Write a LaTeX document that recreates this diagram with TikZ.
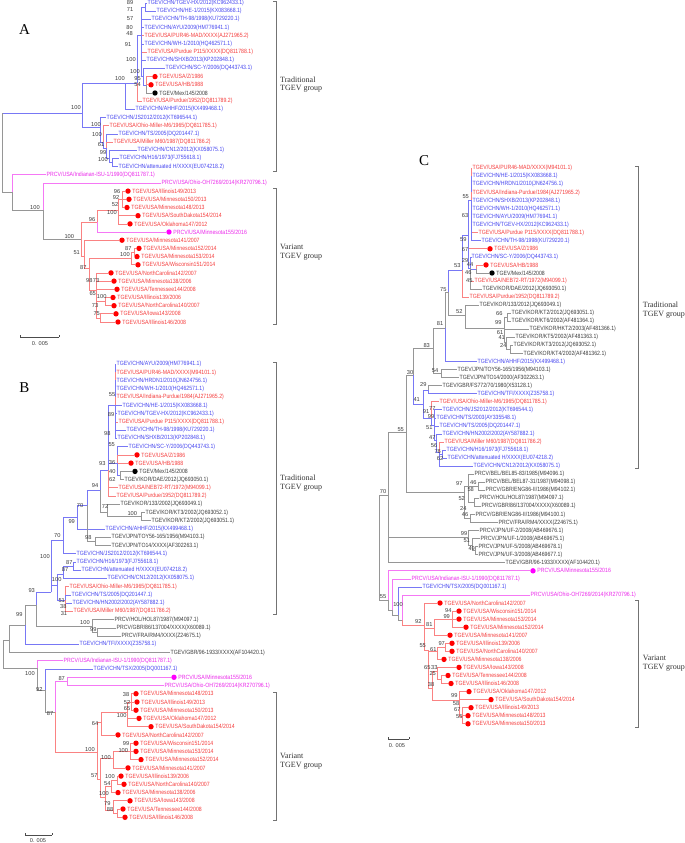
\documentclass[tikz,border=0pt]{standalone}
\usepackage{fontspec}
\setmainfont{Liberation Serif}
\newfontfamily\leaffont[FakeStretch=0.85]{Liberation Sans}
\newfontfamily\bsfont{Liberation Sans}
\usetikzlibrary{positioning}
\definecolor{tb}{RGB}{70,70,240}
\definecolor{tr}{RGB}{245,60,60}
\definecolor{tm}{RGB}{235,40,235}
\definecolor{tk}{RGB}{60,60,60}
\definecolor{lb}{RGB}{120,120,245}
\definecolor{lr}{RGB}{250,130,130}
\definecolor{lm}{RGB}{245,120,245}
\definecolor{lk}{RGB}{150,150,150}
\definecolor{dr}{RGB}{255,0,0}
\definecolor{dm}{RGB}{255,0,255}
\newcounter{bsc}
% leaf, leaf with dot, branches, bootstrap value
\newcommand{\lf}[5]{\node[leaf,text=#4] (#1) at (#2,#3) {#5};}
\newcommand{\dlf}[6]{\node[pt,fill=#4] (#1) at (#2,#3) {};
  \node[leaf,text=#5] (#1t) at ([xshift=3.7pt]#1.center) {#6};}
\newcommand{\kids}[2]{\foreach \ch/\cl in {#2} {\draw[br,draw=\cl] (#1) |- (\ch);}}
\newcommand{\bs}[3]{\stepcounter{bsc}\node[bsn] (bs\thebsc) at (#1,#2) {#3};}
\begin{document}
\begin{tikzpicture}[x=1pt,y=-1pt,
  leaf/.style={anchor=west,inner sep=0.5pt,font=\leaffont\fontsize{6.1}{6}\selectfont},
  pt/.style={circle,inner sep=0pt,minimum size=5.4pt,draw=none},
  br/.style={line width=0.75pt},
  bsn/.style={inner sep=0pt,font=\bsfont\fontsize{5.7}{5.7}\selectfont,text=tk},
  grp/.style={anchor=west,align=left,inner sep=0pt,font=\fontsize{8}{8.6}\selectfont,text=black!80},
  brk/.style={draw=black!55,line width=0.7pt},
  lett/.style={font=\fontsize{15}{15}\selectfont},
  scl/.style={line width=0.8pt,draw=black!70},
  sclab/.style={inner sep=0pt,font=\bsfont\fontsize{5.6}{5.6}\selectfont,text=tk}
  ]
\fill[white] (0,0) rectangle (685,843);
\useasboundingbox (0,0) rectangle (685,843);

% ---------------- A
\node[lett] (lA) at (24.5,30) {A};
\lf{a1}{147}{3.0}{tb}{TGEV/CHN/TGEV-HX/2012(KC962433.1)}
\lf{a2}{156}{11.2}{tb}{TGEV/CHN/HE-1/2015(KX083668.1)}
\lf{a3}{151}{19.4}{tb}{TGEV/CHN/TH-98/1998(KU729220.1)}
\lf{a4}{144}{27.5}{tb}{TGEV/CHN/AYU/2009(HM776941.1)}
\lf{a5}{144}{35.7}{tr}{TGEV/USA/PUR46-MAD/XXXX(AJ271965.2)}
\lf{a6}{144}{43.9}{tb}{TGEV/CHN/WH-1/2010(HQ462571.1)}
\lf{a7}{147}{52.1}{tr}{TGEV/USA/Purdue P115/XXXX(DQ811788.1)}
\lf{a8}{146}{60.3}{tb}{TGEV/CHN/SHXB/2013(KP202848.1)}
\lf{a9}{165}{68.4}{tb}{TGEV/CHN/SC-Y/2006(DQ443743.1)}
\dlf{a10}{155}{76.6}{dr}{tr}{TGEV/USA/Z/1986}
\dlf{a11}{151}{84.8}{dr}{tr}{TGEV/USA/HB/1988}
\dlf{a12}{155}{93.0}{black}{tk}{TGEV/Mex/145/2008}
\lf{a13}{142}{101.2}{tr}{TGEV/USA/Purdue/1952(DQ811789.2)}
\lf{a14}{135}{109.3}{tb}{TGEV/CHN/AHHF/2015(KX499468.1)}
\lf{a15}{106}{117.5}{tb}{TGEV/CHN/JS2012/2012(KT696544.1)}
\lf{a16}{109}{125.7}{tr}{TGEV/USA/Ohio-Miller-M6/1965(DQ811785.1)}
\lf{a17}{118}{133.9}{tb}{TGEV/CHN/TS/2005(DQ201447.1)}
\lf{a18}{113}{142.1}{tr}{TGEV/USA/Miller M60/1987(DQ811786.2)}
\lf{a19}{137}{150.2}{tb}{TGEV/CHN/CN12/2012(KX058075.1)}
\lf{a20}{119}{158.4}{tb}{TGEV/CHN/H16/1973(FJ755618.1)}
\lf{a21}{118}{166.6}{tb}{TGEV/CHN/attenuated H/XXXX(EU074218.2)}
\lf{a22}{46}{174.8}{tm}{PRCV/USA/Indianan-ISU-1/1990(DQ811787.1)}
\lf{a23}{161}{183.0}{tm}{PRCV/USA/Ohio-OH7269/2014(KR270796.1)}
\dlf{a24}{128}{191.1}{dr}{tr}{TGEV/USA/Illinois149/2013}
\dlf{a25}{129}{199.3}{dr}{tr}{TGEV/USA/Minnesota150/2013}
\dlf{a26}{127}{207.5}{dr}{tr}{TGEV/USA/Minnesota148/2013}
\dlf{a27}{138}{215.7}{dr}{tr}{TGEV/USA/SouthDakota154/2014}
\dlf{a28}{130}{223.9}{dr}{tr}{TGEV/USA/Oklahoma147/2012}
\dlf{a29}{169}{232.0}{dm}{tm}{PRCV/USA/Minnesota155/2016}
\dlf{a30}{122}{240.2}{dr}{tr}{TGEV/USA/Minnesota141/2007}
\dlf{a31}{139}{248.4}{dr}{tr}{TGEV/USA/Minnesota152/2014}
\dlf{a32}{137}{256.6}{dr}{tr}{TGEV/USA/Minnesota153/2014}
\dlf{a33}{138}{264.8}{dr}{tr}{TGEV/USA/Wisconsin151/2014}
\dlf{a34}{111}{272.9}{dr}{tr}{TGEV/USA/NorthCarolina142/2007}
\dlf{a35}{114}{281.1}{dr}{tr}{TGEV/USA/Minnesota138/2006}
\dlf{a36}{117}{289.3}{dr}{tr}{TGEV/USA/Tennessee144/2008}
\dlf{a37}{113}{297.5}{dr}{tr}{TGEV/USA/Illinois139/2006}
\dlf{a38}{114}{305.7}{dr}{tr}{TGEV/USA/NorthCarolina140/2007}
\dlf{a39}{116}{313.8}{dr}{tr}{TGEV/USA/Iowa143/2008}
\dlf{a40}{118}{322.0}{dr}{tr}{TGEV/USA/Illinois146/2008}

\coordinate (rA) at (2,150);
\coordinate (nA1) at (82,113);
\coordinate (nA2) at (125,83);
\coordinate (nA3) at (137,83);
\coordinate (nA4) at (141,35);
\coordinate (nA4a) at (145,7.1);
\coordinate (nA7) at (143,76);
\coordinate (nA8) at (146,85);
\coordinate (nA6) at (100,127);
\coordinate (nA9) at (103,142);
\coordinate (nA10) at (106,148);
\coordinate (nA11) at (109,158);
\coordinate (nA12) at (112,162.5);
\coordinate (nA13) at (12,192);
\coordinate (nA14) at (43,210);
\coordinate (nA15) at (81,239);
\coordinate (nA16) at (97,222);
\coordinate (nA17) at (118,210);
\coordinate (nA18) at (122,199.3);
\coordinate (nA15b) at (84,256);
\coordinate (nA19) at (89,268);
\coordinate (nA20) at (131,258);
\coordinate (nA20a) at (134,252.5);
\coordinate (nA21) at (96,290);
\coordinate (nA22) at (105,301.6);
\coordinate (nA23) at (100,318);

\kids{rA}{nA1/lb,nA13/lk}
\kids{nA1}{nA2/lb,nA6/lb}
\kids{nA2}{nA3/lb,a14/lb}
\kids{nA3}{nA4/lb,a13/lr}
\kids{nA4}{nA4a/lb,a3/lb,a4/lb,a5/lr,a6/lb,a7/lr,a8/lb,nA7/lb}
\kids{nA4a}{a1/lb,a2/lb}
\kids{nA7}{a9/lb,nA8/lb}
\kids{nA8}{a10/lr,a11/lr,a12/lk}
\kids{nA6}{a15/lb,nA9/lb}
\kids{nA9}{a16/lr,nA10/lb}
\kids{nA10}{a17/lb,a18/lr,nA11/lb}
\kids{nA11}{a19/lb,nA12/lb}
\kids{nA12}{a20/lb,a21/lb}
\kids{nA13}{a22/lm,nA14/lk}
\kids{nA14}{a23/lm,nA15/lk}
\kids{nA15}{nA16/lr,nA15b/lr}
\kids{nA16}{nA17/lr,a29/lm}
\kids{nA17}{nA18/lr,a27/lr,a28/lr}
\kids{nA18}{a24/lr,a25/lr,a26/lr}
\kids{nA15b}{a30/lr,nA19/lr}
\kids{nA19}{nA20/lr,nA21/lr}
\kids{nA20}{nA20a/lr,a33/lr}
\kids{nA20a}{a31/lr,a32/lr}
\kids{nA21}{a34/lr,a35/lr,a36/lr,nA22/lr,nA23/lr}
\kids{nA22}{a37/lr,a38/lr}
\kids{nA23}{a39/lr,a40/lr}
\draw[br,draw=lk] (rA) -- (2,113);

\bs{130}{2.7}{89} \bs{130}{9.3}{71} \bs{130}{18.3}{57} \bs{129.5}{27.3}{80}
\bs{129.5}{33.3}{48} \bs{128}{45}{91} \bs{131}{59.3}{100} \bs{135}{71.7}{100}
\bs{120}{78.3}{100} \bs{137.5}{78.3}{95} \bs{137.5}{85}{54} \bs{76}{107.3}{100}
\bs{96}{125}{100} \bs{97}{135}{100} \bs{101}{145}{61} \bs{103}{152.7}{99} \bs{103}{159.3}{100}
\bs{35}{208}{100} \bs{117}{191.3}{96} \bs{116}{198}{92} \bs{115}{205}{52} \bs{112}{213}{100}
\bs{92}{220}{96} \bs{69.3}{236.7}{100} \bs{76.7}{252.3}{51} \bs{83.3}{267.7}{87}
\bs{128.3}{248.3}{87} \bs{125}{255}{100} \bs{89.3}{281}{98} \bs{96}{281}{73}
\bs{92.7}{294}{65} \bs{101.7}{296.7}{100} \bs{95}{305.3}{73} \bs{96.7}{314}{75}

\draw[brk] (273,1) -- (276,1) -- (276,171) -- (273,171);
\draw[brk] (273,188) -- (276,188) -- (276,324) -- (273,324);
\node[grp] (gA1) at (280,84.5) {Traditional\\TGEV group};
\node[grp] (gA2) at (280,252) {Variant\\TGEV group};
\draw[scl] (20,337) -- (59,337);
\draw[scl] (20,335) -- (20,337.4) (59,335) -- (59,337.4);
\node[sclab] (sA) at (40,344) {0. 005};

% ---------------- B
\node[lett] (lB) at (24.5,388) {B};
\lf{b0}{116}{364.3}{tb}{TGEV/CHN/AYU/2009(HM776941.1)}
\lf{b1}{116}{372.5}{tr}{TGEV/USA/PUR46-MAD/XXXX(M94101.1)}
\lf{b2}{116}{380.8}{tb}{TGEV/CHN/HRDN1/2010(JN624756.1)}
\lf{b3}{116}{389.0}{tb}{TGEV/CHN/WH-1/2010(HQ462571.1)}
\lf{b4}{116}{397.2}{tr}{TGEV/USA/Indiana-Purdue/1984(AJ271965.2)}
\lf{b5}{122}{405.5}{tb}{TGEV/CHN/HE-1/2015(KX083668.1)}
\lf{b6}{117}{413.7}{tb}{TGEV/CHN/TGEV-HX/2012(KC962433.1)}
\lf{b7}{118}{421.9}{tr}{TGEV/USA/Purdue P115/XXXX(DQ811788.1)}
\lf{b8}{126}{430.2}{tb}{TGEV/CHN/TH-98/1998(KU729220.1)}
\lf{b9}{117}{438.4}{tb}{TGEV/CHN/SHXB/2013(KP202848.1)}
\lf{b10}{128}{446.7}{tb}{TGEV/CHN/SC-Y/2006(DQ443743.1)}
\dlf{b11}{137}{454.9}{dr}{tr}{TGEV/USA/Z/1986}
\dlf{b12}{131}{463.1}{dr}{tr}{TGEV/USA/HB/1988}
\dlf{b13}{135}{471.4}{black}{tk}{TGEV/Mex/145/2008}
\lf{b14}{124}{479.6}{tk}{TGEV/KOR/DAE/2012(JQ693050.1)}
\lf{b15}{118}{487.8}{tr}{TGEV/USA/NEB72-RT/1972(M94099.1)}
\lf{b16}{116}{496.1}{tr}{TGEV/USA/Purdue/1952(DQ811789.2)}
\lf{b17}{120}{504.3}{tk}{TGEV/KOR/133/2002(JQ693049.1)}
\lf{b18}{145}{512.5}{tk}{TGEV/KOR/KT3/2002(JQ693052.1)}
\lf{b19}{151}{520.8}{tk}{TGEV/KOR/KT2/2002(JQ693051.1)}
\lf{b20}{105}{529.0}{tb}{TGEV/CHN/AHHF/2015(KX499468.1)}
\lf{b21}{111}{537.3}{tk}{TGEV/JPN/TOY56-165/1956(M94103.1)}
\lf{b22}{111}{545.5}{tk}{TGEV/JPN/TO14/XXXX(AF302263.1)}
\lf{b23}{76}{553.7}{tb}{TGEV/CHN/JS2012/2012(KT696544.1)}
\lf{b24}{76}{562.0}{tb}{TGEV/CHN/H16/1973(FJ755618.1)}
\lf{b25}{81}{570.2}{tb}{TGEV/CHN/attenuated H/XXXX(EU074218.2)}
\lf{b26}{107}{578.4}{tb}{TGEV/CHN/CN12/2012(KX058075.1)}
\lf{b27}{69}{586.7}{tr}{TGEV/USA/Ohio-Miller-M6/1965(DQ811785.1)}
\lf{b28}{71}{594.9}{tb}{TGEV/CHN/TS/2005(DQ201447.1)}
\lf{b29}{72}{603.1}{tb}{TGEV/CHN/HN2002/2002(AY587882.1)}
\lf{b30}{73}{611.4}{tr}{TGEV/USA/Miller M60/1987(DQ811786.2)}
\lf{b31}{114}{619.6}{tk}{PRCV/HOL/HOL87/1987(M94097.1)}
\lf{b32}{116}{627.9}{tk}{PRCV/GBR/86/137004/XXXX(X60089.1)}
\lf{b33}{121}{636.1}{tk}{PRCV/FRA/RM4/XXXX(Z24675.1)}
\lf{b34}{79}{644.3}{tb}{TGEV/CHN/TFI/XXXX(Z35758.1)}
\lf{b35}{170}{652.6}{tk}{TGEV/GBR/96-1933/XXXX(AF104420.1)}
\lf{b36}{63}{660.8}{tm}{PRCV/USA/Indianan-ISU-1/1990(DQ811787.1)}
\lf{b37}{93}{669.0}{tb}{TGEV/CHN/TSX/2005(DQ001167.1)}
\dlf{b38}{174}{677.3}{dm}{tm}{PRCV/USA/Minnesota155/2016}
\lf{b39}{164}{685.5}{tm}{PRCV/USA/Ohio-OH7269/2014(KR270796.1)}
\dlf{b40}{136}{693.7}{dr}{tr}{TGEV/USA/Minnesota148/2013}
\dlf{b41}{137}{702.0}{dr}{tr}{TGEV/USA/Illinois149/2013}
\dlf{b42}{136}{710.2}{dr}{tr}{TGEV/USA/Minnesota150/2013}
\dlf{b43}{139}{718.4}{dr}{tr}{TGEV/USA/Oklahoma147/2012}
\dlf{b44}{151}{726.7}{dr}{tr}{TGEV/USA/SouthDakota154/2014}
\dlf{b45}{118}{734.9}{dr}{tr}{TGEV/USA/NorthCarolina142/2007}
\dlf{b46}{136}{743.2}{dr}{tr}{TGEV/USA/Wisconsin151/2014}
\dlf{b47}{136}{751.4}{dr}{tr}{TGEV/USA/Minnesota153/2014}
\dlf{b48}{141}{759.6}{dr}{tr}{TGEV/USA/Minnesota152/2014}
\dlf{b49}{128}{767.9}{dr}{tr}{TGEV/USA/Minnesota141/2007}
\dlf{b50}{121}{776.1}{dr}{tr}{TGEV/USA/Illinois139/2006}
\dlf{b51}{124}{784.3}{dr}{tr}{TGEV/USA/NorthCarolina140/2007}
\dlf{b52}{118}{792.6}{dr}{tr}{TGEV/USA/Minnesota138/2006}
\dlf{b53}{130}{800.8}{dr}{tr}{TGEV/USA/Iowa143/2008}
\dlf{b54}{123}{809.0}{dr}{tr}{TGEV/USA/Tennessee144/2008}
\dlf{b55}{125}{817.3}{dr}{tr}{TGEV/USA/Illinois146/2008}

\coordinate (rB) at (3,655);
\coordinate (nB15) at (9,640);
\coordinate (nB14) at (25,625);
\coordinate (nB13) at (36,605);
\coordinate (nP) at (92,626);
\coordinate (nP2) at (97,632);
\coordinate (nB10) at (51,592);
\coordinate (nB9) at (63,540);
\coordinate (nB8) at (77,517);
\coordinate (nB7) at (87,505);
\coordinate (nJ) at (95,541.4);
\coordinate (nB1) at (100,490);
\coordinate (nK1) at (107,512);
\coordinate (nK2) at (141,516.6);
\coordinate (nB2) at (108,470);
\coordinate (nB3) at (115,405);
\coordinate (nB5) at (117,463);
\coordinate (nB6) at (120,475.5);
\coordinate (nB12) at (57,585);
\coordinate (nH) at (63,574);
\coordinate (nH2) at (73,566);
\coordinate (nB11) at (65,600);
\coordinate (nB16) at (37,668);
\coordinate (nB17) at (45,690);
\coordinate (nB18) at (55,712);
\coordinate (nMag) at (67,681.4);
\coordinate (nV) at (97,752);
\coordinate (nV1) at (101,722);
\coordinate (nV1a) at (127,712);
\coordinate (nV1b) at (131,702);
\coordinate (nVb) at (100,779);
\coordinate (nV3) at (113,758);
\coordinate (nV3a) at (130,751.4);
\coordinate (nV4) at (105,797);
\coordinate (nV4a) at (111,786);
\coordinate (nV4c) at (117,780.2);
\coordinate (nV4b) at (113,810);
\coordinate (nV4d) at (117,813.2);

\kids{rB}{nB15/lk,nB16/lk}
\kids{nB15}{nB14/lk,b35/lk}
\kids{nB14}{nB13/lk,b34/lb}
\kids{nB13}{nB10/lb,nP/lk}
\kids{nP}{b31/lk,nP2/lk}
\kids{nP2}{b32/lk,b33/lk}
\kids{nB10}{nB9/lb,nB12/lb}
\kids{nB9}{nB8/lb,b23/lb}
\kids{nB8}{nB7/lb,b20/lb}
\kids{nB7}{nB1/lb,nJ/lk}
\kids{nJ}{b21/lk,b22/lk}
\kids{nB1}{nB2/lb,nK1/lk}
\kids{nK1}{b17/lk,nK2/lk}
\kids{nK2}{b18/lk,b19/lk}
\kids{nB2}{nB3/lb,nB5/lb,b15/lr,b16/lr}
\kids{nB3}{b0/lb,b1/lr,b2/lb,b3/lb,b4/lr,b5/lb,b6/lb,b7/lr,b8/lb,b9/lb}
\kids{nB5}{b10/lb,b11/lr,b12/lr,nB6/lb}
\kids{nB6}{b13/lk,b14/lk}
\kids{nB12}{nH/lb,nB11/lb}
\kids{nH}{nH2/lb,b26/lb}
\kids{nH2}{b24/lb,b25/lb}
\kids{nB11}{b27/lr,b28/lb,b29/lb,b30/lr}
\kids{nB16}{b36/lm,nB17/lk}
\kids{nB17}{b37/lb,nB18/lk}
\kids{nB18}{nMag/lm,nV/lr}
\kids{nMag}{b38/lm,b39/lm}
\kids{nV}{nV1/lr,nVb/lr}
\kids{nV1}{nV1a/lr,b45/lr}
\kids{nV1a}{nV1b/lr,b43/lr,b44/lr}
\kids{nV1b}{b40/lr,b41/lr,b42/lr}
\kids{nVb}{nV3/lr,nV4/lr}
\kids{nV3}{nV3a/lr,b49/lr}
\kids{nV3a}{b46/lr,b47/lr,b48/lr}
\kids{nV4}{nV4a/lr,nV4b/lr}
\kids{nV4a}{nV4c/lr,b52/lr}
\kids{nV4c}{b50/lr,b51/lr}
\kids{nV4b}{b53/lr,nV4d/lr}
\kids{nV4d}{b54/lr,b55/lr}

\bs{112}{394.3}{55} \bs{111}{414.3}{89} \bs{107.3}{434}{98} \bs{111.7}{445}{55}
\bs{112}{462.3}{36} \bs{102.3}{463.3}{93} \bs{112.3}{471.7}{40} \bs{112.3}{480}{62}
\bs{95}{486}{94} \bs{80}{505.7}{70} \bs{105}{506.7}{72} \bs{132.3}{514}{100}
\bs{71.7}{521.7}{99} \bs{57.3}{536}{70} \bs{88.3}{537.7}{98} \bs{45}{556.7}{100}
\bs{69.3}{562.3}{87} \bs{65}{569.3}{87} \bs{56.7}{580}{100} \bs{61.7}{600.7}{51}
\bs{63.3}{606.7}{38} \bs{64}{613.3}{31} \bs{31.7}{591}{93} \bs{19.3}{614.3}{99}
\bs{85}{622.7}{100} \bs{93.3}{629.3}{99} \bs{30}{674}{100} \bs{39.3}{689.3}{92}
\bs{61.7}{678.3}{87} \bs{126}{695}{38} \bs{127}{702.7}{52} \bs{127}{708.3}{65}
\bs{121.7}{716}{100} \bs{95}{724}{64} \bs{90}{750}{100} \bs{126}{743.3}{99}
\bs{123.3}{750.7}{100} \bs{106}{757.3}{100} \bs{94.3}{776}{57} \bs{110}{776.7}{100}
\bs{107.3}{783.3}{54} \bs{104}{794}{100} \bs{107.3}{804}{79} \bs{110}{810}{88}
\bs{50}{714}{87}

\draw[brk] (273,362) -- (276,362) -- (276,614) -- (273,614);
\draw[brk] (273,692) -- (276,692) -- (276,820) -- (273,820);
\node[grp] (gB1) at (280,483) {Traditional\\TGEV group};
\node[grp] (gB2) at (280,761) {Variant\\TGEV group};
\draw[scl] (25,835) -- (52,835);
\draw[scl] (25,833) -- (25,835.4) (52,833) -- (52,835.4);
\node[sclab] (sB) at (38,841) {0. 005};

% ---------------- C
\node[lett] (lC) at (424,161) {C};
\lf{c0}{472}{168.3}{tr}{TGEV/USA/PUR46-MAD/XXXX(M94101.1)}
\lf{c1}{472}{176.4}{tb}{TGEV/CHN/HE-1/2015(KX083668.1)}
\lf{c2}{472}{184.4}{tb}{TGEV/CHN/HRDN1/2010(JN624756.1)}
\lf{c3}{472}{192.5}{tr}{TGEV/USA/Indiana-Purdue/1984(AJ271965.2)}
\lf{c4}{472}{200.5}{tb}{TGEV/CHN/SHXB/2013(KP202848.1)}
\lf{c5}{472}{208.6}{tb}{TGEV/CHN/WH-1/2010(HQ462571.1)}
\lf{c6}{472}{216.6}{tb}{TGEV/CHN/AYU/2009(HM776941.1)}
\lf{c7}{472}{224.7}{tb}{TGEV/CHN/TGEV-HX/2012(KC962433.1)}
\lf{c8}{478}{232.7}{tr}{TGEV/USA/Purdue P115/XXXX(DQ811788.1)}
\lf{c9}{481}{240.8}{tb}{TGEV/CHN/TH-98/1998(KU729220.1)}
\dlf{c10}{490}{248.8}{dr}{tr}{TGEV/USA/Z/1986}
\lf{c11}{471}{256.9}{tb}{TGEV/CHN/SC-Y/2006(DQ443743.1)}
\dlf{c12}{486}{264.9}{dr}{tr}{TGEV/USA/HB/1988}
\dlf{c13}{492}{273.0}{black}{tk}{TGEV/Mex/145/2008}
\lf{c14}{474}{281.0}{tr}{TGEV/USA/NEB72-RT/1972(M94099.1)}
\lf{c15}{482}{289.1}{tk}{TGEV/KOR/DAE/2012(JQ693050.1)}
\lf{c16}{469}{297.1}{tr}{TGEV/USA/Purdue/1952(DQ811789.2)}
\lf{c17}{479}{305.2}{tk}{TGEV/KOR/133/2012(JQ693049.1)}
\lf{c18}{511}{313.2}{tk}{TGEV/KOR/KT2/2012(JQ693051.1)}
\lf{c19}{511}{321.3}{tk}{TGEV/KOR/KT6/2002(AF481364.1)}
\lf{c20}{529}{329.3}{tk}{TGEV/KOR/HKT2/2003(AF481366.1)}
\lf{c21}{515}{337.4}{tk}{TGEV/KOR/KT5/2002(AF481363.1)}
\lf{c22}{513}{345.4}{tk}{TGEV/KOR/KT3/2012(JQ693052.1)}
\lf{c23}{523}{353.5}{tk}{TGEV/KOR/KT4/2002(AF481362.1)}
\lf{c24}{477}{361.5}{tb}{TGEV/CHN/AHHF/2015(KX499468.1)}
\lf{c25}{457}{369.6}{tk}{TGEV/JPN/TOY56-165/1956(M94103.1)}
\lf{c26}{459}{377.6}{tk}{TGEV/JPN/TO14/2000(AF302263.1)}
\lf{c27}{442}{385.7}{tk}{TGEV/GBR/FS772/70/1980(X53128.1)}
\lf{c28}{477}{393.7}{tb}{TGEV/CHN/TFI/XXXX(Z35758.1)}
\lf{c29}{439}{401.8}{tr}{TGEV/USA/Ohio-Miller-M6/1965(DQ811785.1)}
\lf{c30}{442}{409.8}{tb}{TGEV/CHN/JS2012/2012(KT696544.1)}
\lf{c31}{436}{417.9}{tb}{TGEV/CHN/TS/2003(AY335548.1)}
\lf{c32}{439}{425.9}{tb}{TGEV/CHN/TS/2005(DQ201447.1)}
\lf{c33}{442}{434.0}{tb}{TGEV/CHN/HN2002/2002(AY587882.1)}
\lf{c34}{444}{442.0}{tr}{TGEV/USA/Miller M60/1987(DQ811786.2)}
\lf{c35}{446}{450.1}{tb}{TGEV/CHN/H16/1973(FJ755618.1)}
\lf{c36}{447}{458.1}{tb}{TGEV/CHN/attenuated H/XXXX(EU074218.2)}
\lf{c37}{473}{466.2}{tb}{TGEV/CHN/CN12/2012(KX058075.1)}
\lf{c38}{474}{474.2}{tk}{PRCV/BEL/BEL85-83/1985(M94096.1)}
\lf{c39}{485}{482.3}{tk}{PRCV/BEL/BEL87-31/1987(M94098.1)}
\lf{c40}{485}{490.3}{tk}{PRCV/GBR/ENG86-II/1986(M94102.1)}
\lf{c41}{479}{498.4}{tk}{PRCV/HOL/HOL87/1987(M94097.1)}
\lf{c42}{481}{506.4}{tk}{PRCV/GBR/86/137004/XXXX(X60089.1)}
\lf{c43}{475}{514.5}{tk}{PRCV/GBR/ENG86-II/1986(M94100.1)}
\lf{c44}{498}{522.5}{tk}{PRCV/FRA/RM4/XXXX(Z24675.1)}
\lf{c45}{479}{530.6}{tk}{PRCV/JPN/UF-2/2008(AB469676.1)}
\lf{c46}{480}{538.6}{tk}{PRCV/JPN/UF-1/2008(AB469675.1)}
\lf{c47}{478}{546.7}{tk}{PRCV/JPN/UF-5/2008(AB469678.1)}
\lf{c48}{478}{554.7}{tk}{PRCV/JPN/UF-3/2008(AB469677.1)}
\lf{c49}{505}{562.8}{tk}{TGEV/GBR/96-1933/XXXX(AF104420.1)}
\dlf{c50}{533}{570.8}{dm}{tm}{PRCV/USA/Minnesota155/2016}
\lf{c51}{411}{578.9}{tm}{PRCV/USA/Indianan-ISU-1/1990(DQ811787.1)}
\lf{c52}{422}{586.9}{tb}{TGEV/CHN/TSX/2005(DQ001167.1)}
\lf{c53}{530}{595.0}{tm}{PRCV/USA/Ohio-OH7269/2014(KR270796.1)}
\dlf{c54}{440}{603.0}{dr}{tr}{TGEV/USA/NorthCarolina142/2007}
\dlf{c55}{459}{611.1}{dr}{tr}{TGEV/USA/Wisconsin151/2014}
\dlf{c56}{459}{619.1}{dr}{tr}{TGEV/USA/Minnesota153/2014}
\dlf{c57}{466}{627.2}{dr}{tr}{TGEV/USA/Minnesota152/2014}
\dlf{c58}{450}{635.2}{dr}{tr}{TGEV/USA/Minnesota141/2007}
\dlf{c59}{452}{643.3}{dr}{tr}{TGEV/USA/Illinois139/2006}
\dlf{c60}{452}{651.3}{dr}{tr}{TGEV/USA/NorthCarolina140/2007}
\dlf{c61}{444}{659.4}{dr}{tr}{TGEV/USA/Minnesota138/2006}
\dlf{c62}{459}{667.4}{dr}{tr}{TGEV/USA/Iowa143/2008}
\dlf{c63}{448}{675.5}{dr}{tr}{TGEV/USA/Tennessee144/2008}
\dlf{c64}{451}{683.5}{dr}{tr}{TGEV/USA/Illinois146/2008}
\dlf{c65}{469}{691.6}{dr}{tr}{TGEV/USA/Oklahoma147/2012}
\dlf{c66}{491}{699.6}{dr}{tr}{TGEV/USA/SouthDakota154/2014}
\dlf{c67}{471}{707.7}{dr}{tr}{TGEV/USA/Illinois149/2013}
\dlf{c68}{468}{715.7}{dr}{tr}{TGEV/USA/Minnesota148/2013}
\dlf{c69}{468}{723.8}{dr}{tr}{TGEV/USA/Minnesota150/2013}

\coordinate (rC) at (379,545);
\coordinate (nC70) at (388,495);
\coordinate (nC55) at (406,432);
\coordinate (nC30) at (413,375);
\coordinate (nC83) at (433,348);
\coordinate (nCA) at (445,328);
\coordinate (nCK1) at (448,292);
\coordinate (nC0) at (462,270);
\coordinate (nC2) at (468,235);
\coordinate (nC1) at (471,200);
\coordinate (nC3) at (470.5,268);
\coordinate (nC4) at (476,269);
\coordinate (nCK2) at (465,315);
\coordinate (nCK3) at (504,328);
\coordinate (nCK4) at (507,317.2);
\coordinate (nCK5) at (506,342);
\coordinate (nCK6) at (510,349.5);
\coordinate (nCJ) at (441,373.6);
\coordinate (nC41) at (423,404);
\coordinate (nC29) at (428,390);
\coordinate (nCb1) at (431,418);
\coordinate (nCb2) at (434,425);
\coordinate (nCb3) at (436.5,440);
\coordinate (nCb4) at (439,452);
\coordinate (nCb5) at (442.5,454);
\coordinate (nCPR) at (464,492);
\coordinate (nCPR1) at (468,486);
\coordinate (nCPR1a) at (478,486.3);
\coordinate (nCPR1b) at (474,502.4);
\coordinate (nCPR2) at (470,518.5);
\coordinate (nCUF) at (468,537);
\coordinate (nCUF1) at (472,545);
\coordinate (nCUF2) at (475,550.7);
\coordinate (nCL) at (388,600);
\coordinate (nCL2) at (392,610);
\coordinate (nCL3) at (398,615);
\coordinate (nCm) at (402,620);
\coordinate (nCv1) at (424,625);
\coordinate (nCv2) at (434,628);
\coordinate (nCv2a) at (452,619);
\coordinate (nCv3) at (428,650);
\coordinate (nCv4) at (437,651);
\coordinate (nCv4a) at (445,647);
\coordinate (nCv5) at (432,688);
\coordinate (nCv6) at (437,671);
\coordinate (nCv6a) at (441,679.5);
\coordinate (nCv7) at (459,700);
\coordinate (nCv8) at (462,716);

\kids{rC}{nC70/lk,nCL/lk}
\kids{nC70}{nC55/lk,nCUF/lk,c49/lk}
\kids{nC55}{nC30/lk,nCPR/lk}
\kids{nC30}{nC83/lk,nC41/lb}
\kids{nC83}{nCA/lk,nCJ/lk}
\kids{nCA}{nCK1/lk,c24/lb}
\kids{nCK1}{nC0/lb,nCK2/lk}
\kids{nC0}{nC2/lb,c16/lr}
\kids{nC2}{nC1/lb,c10/lr,nC3/lb}
\kids{nC1}{c0/lr,c1/lb,c2/lb,c3/lr,c4/lb,c5/lb,c6/lb,c7/lb,c8/lr,c9/lb}
\kids{nC3}{c11/lb,nC4/lb,c14/lr,c15/lk}
\kids{nC4}{c12/lr,c13/lk}
\kids{nCK2}{c17/lk,nCK3/lk}
\kids{nCK3}{nCK4/lk,c20/lk,nCK5/lk}
\kids{nCK4}{c18/lk,c19/lk}
\kids{nCK5}{c21/lk,nCK6/lk}
\kids{nCK6}{c22/lk,c23/lk}
\kids{nCJ}{c25/lk,c26/lk}
\kids{nC41}{nC29/lb,nCb1/lb}
\kids{nC29}{c27/lk,c28/lb}
\kids{nCb1}{c29/lr,nCb2/lb}
\kids{nCb2}{c30/lb,c31/lb,c32/lb,nCb3/lb}
\kids{nCb3}{c33/lb,nCb4/lb}
\kids{nCb4}{c34/lr,nCb5/lb,c37/lb}
\kids{nCb5}{c35/lb,c36/lb}
\kids{nCPR}{nCPR1/lk,nCPR2/lk}
\kids{nCPR1}{c38/lk,nCPR1a/lk,nCPR1b/lk}
\kids{nCPR1a}{c39/lk,c40/lk}
\kids{nCPR1b}{c41/lk,c42/lk}
\kids{nCPR2}{c43/lk,c44/lk}
\kids{nCUF}{c45/lk,nCUF1/lk}
\kids{nCUF1}{c46/lk,nCUF2/lk}
\kids{nCUF2}{c47/lk,c48/lk}
\kids{nCL}{c50/lm,nCL2/lk}
\kids{nCL2}{c51/lm,nCL3/lk}
\kids{nCL3}{c52/lb,nCm/lk}
\kids{nCm}{c53/lm,nCv1/lr}
\kids{nCv1}{c54/lr,nCv2/lr,nCv3/lr}
\kids{nCv2}{nCv2a/lr,c58/lr}
\kids{nCv2a}{c55/lr,c56/lr,c57/lr}
\kids{nCv3}{nCv4/lr,nCv5/lr}
\kids{nCv4}{nCv4a/lr,c61/lr}
\kids{nCv4a}{c59/lr,c60/lr}
\kids{nCv5}{nCv6/lr,nCv7/lr}
\kids{nCv6}{c62/lr,nCv6a/lr}
\kids{nCv6a}{c63/lr,c64/lr}
\kids{nCv7}{c65/lr,c66/lr,nCv8/lr}
\kids{nCv8}{c67/lr,c68/lr,c69/lr}

\bs{465.7}{196.7}{55} \bs{465}{216}{63} \bs{463.3}{239.3}{59} \bs{465}{249.3}{67}
\bs{465}{260.7}{29} \bs{470}{265}{44} \bs{468.3}{272.7}{46} \bs{469.3}{280.7}{45}
\bs{457.3}{266}{53} \bs{443.3}{289.3}{75} \bs{459.3}{311.7}{52} \bs{440}{324}{81}
\bs{426.7}{345.7}{83} \bs{499.3}{314}{66} \bs{498.3}{322.7}{99} \bs{500}{332.7}{61}
\bs{501.7}{337.3}{41} \bs{503.3}{345.7}{24} \bs{435}{370.7}{54} \bs{410}{372.7}{30}
\bs{423.3}{384.3}{29} \bs{416.7}{399.3}{41} \bs{426}{412}{91} \bs{432.3}{408.7}{77}
\bs{431}{416.7}{99} \bs{429.3}{427.3}{51} \bs{432.3}{437.7}{47} \bs{434}{446}{56}
\bs{437.7}{451.7}{76} \bs{440}{458.3}{62} \bs{400.7}{429.3}{55} \bs{383}{492}{70}
\bs{459.3}{484}{97} \bs{473.3}{482.7}{46} \bs{470.7}{489.3}{58} \bs{461.7}{498.3}{52}
\bs{463.3}{508.3}{24} \bs{465}{515}{46} \bs{464}{533.3}{99} \bs{466.7}{541}{51}
\bs{471.7}{548.3}{49} \bs{383}{597}{55} \bs{398}{605}{100}
\bs{418.3}{621.7}{92} \bs{448.3}{610.7}{94} \bs{446.7}{616.7}{99}
\bs{429.3}{625}{81} \bs{422.7}{645.7}{55} \bs{433.3}{650}{61} \bs{441.7}{644}{97}
\bs{427.3}{667.3}{65} \bs{434.3}{667.3}{33} \bs{432.7}{673.3}{25} \bs{431}{685}{38}
\bs{454.3}{696}{99} \bs{456}{703.3}{58} \bs{457.3}{710}{67} \bs{459.3}{716.7}{55}

\draw[brk] (635,166) -- (638,166) -- (638,468) -- (635,468);
\draw[brk] (635,600) -- (638,600) -- (638,727) -- (635,727);
\node[grp] (gC1) at (642.7,310) {Traditional\\TGEV group};
\node[grp] (gC2) at (642.7,663.3) {Variant\\TGEV group};
\draw[scl] (388,739) -- (409,739);
\draw[scl] (388,737) -- (388,739.4) (409,737) -- (409,739.4);
\node[sclab] (sC) at (397,746) {0. 005};
\end{tikzpicture}
\end{document}
